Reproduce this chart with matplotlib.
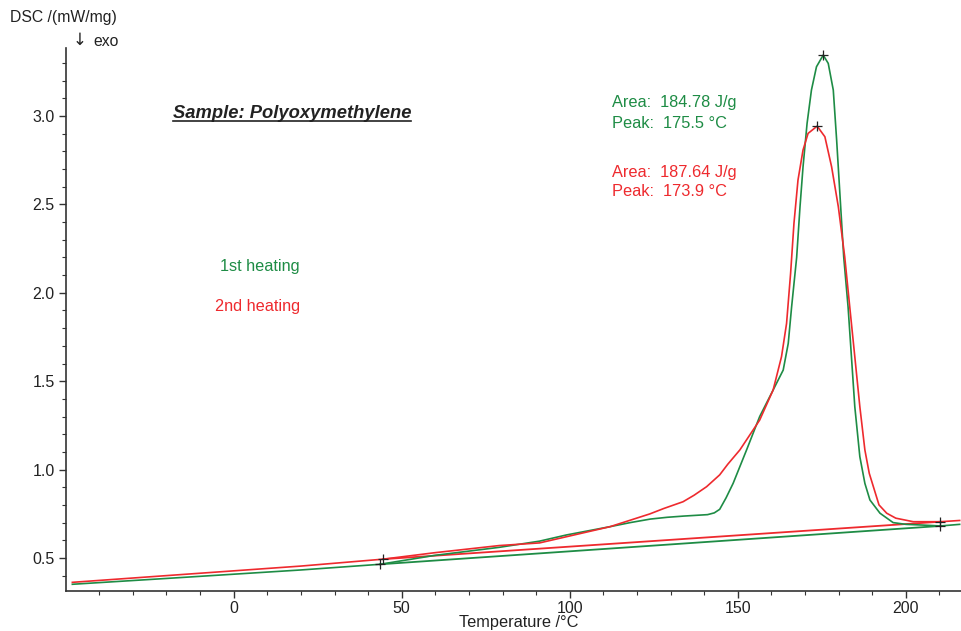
import numpy as np
import matplotlib.pyplot as plt
from matplotlib.lines import Line2D
from matplotlib.ticker import MultipleLocator

plt.rcParams['font.family'] = ['Liberation Sans', 'DejaVu Sans']

# 1st heating (green)
t1 = [-48, -20, 0, 20, 43.5, 60, 79, 91, 99, 112, 118, 124, 129, 134, 141, 143,
      144.6, 146.5, 148.6, 152.6, 156.5, 160.5, 163.5, 165.0, 166.0, 167.5, 168.5,
      169.4, 170.6, 171.9, 173.4, 175.4, 176.9, 178.4, 179.4, 180.6, 181.5, 182.8,
      183.8, 184.8, 186.3, 187.8, 189.3, 192.3, 196.2, 200, 205, 210.3, 216]
dsc1 = [0.351, 0.384, 0.408, 0.432, 0.464, 0.515, 0.56, 0.595, 0.63, 0.677, 0.70,
        0.72, 0.73, 0.737, 0.745, 0.755, 0.775, 0.84, 0.922, 1.111, 1.30, 1.45,
        1.563, 1.714, 1.92, 2.20, 2.487, 2.713, 2.958, 3.147, 3.279, 3.345, 3.298,
        3.147, 2.864, 2.487, 2.204, 1.92, 1.639, 1.356, 1.073, 0.922, 0.828, 0.753,
        0.70, 0.69, 0.686, 0.681, 0.69]

# 2nd heating (red)
t2 = [-48, -20, 0, 20, 44.4, 60, 79, 91, 99, 112, 123.8, 128, 133.7, 137, 140.7,
      144.6, 147, 150.6, 156.5, 160.5, 163.0, 164.5, 165.7, 166.7, 167.9, 169.4,
      170.9, 173.6, 175.9, 177.9, 179.9, 181.8, 183.3, 184.8, 186.3, 187.8, 189.1,
      192.0, 194.3, 197.0, 202.2, 210.3, 216]
dsc2 = [0.362, 0.40, 0.427, 0.454, 0.493, 0.53, 0.57, 0.585, 0.62, 0.677, 0.749,
        0.78, 0.818, 0.855, 0.903, 0.97, 1.03, 1.111, 1.28, 1.45, 1.639, 1.827,
        2.11, 2.393, 2.638, 2.808, 2.902, 2.943, 2.883, 2.713, 2.487, 2.204, 1.92,
        1.639, 1.356, 1.111, 0.979, 0.80, 0.753, 0.725, 0.705, 0.705, 0.712]

# integration limits and peaks
base1_t = [43.5, 210.3]
base1_y = [0.464, 0.681]
base2_t = [44.4, 210.3]
base2_y = [0.493, 0.705]
peak1 = (175.4, 3.345)
peak2 = (173.6, 2.943)

labels1 = ["Area:  184.78 J/g", "Peak:  175.5 °C"]
labels2 = ["Area:  187.64 J/g", "Peak:  173.9 °C"]

green = '#1e8c45'
red = '#ee2a2e'

fig = plt.figure(figsize=(9.61, 6.31), dpi=100)
ax = fig.add_axes([0.069, 0.0634, 0.931, 0.8605])

ax.plot(base1_t, base1_y, color=green, lw=1.3)
ax.plot(base2_t, base2_y, color=red, lw=1.3)
ax.plot(t1, dsc1, color=green, lw=1.2)
ax.plot(t2, dsc2, color=red, lw=1.2)

mk = dict(marker='+', color='#222222', ms=7, mew=0.9, ls='none')
ax.plot([base1_t[0], base1_t[1], peak1[0]], [base1_y[0], base1_y[1], peak1[1]], **mk)
ax.plot([base2_t[0], base2_t[1], peak2[0]], [base2_y[0], base2_y[1], peak2[1]], **mk)

ax.set_xlim(-49.8, 216.4)
ax.set_ylim(0.313, 3.385)
ax.xaxis.set_major_locator(MultipleLocator(50))
ax.xaxis.set_minor_locator(MultipleLocator(10))
ax.yaxis.set_major_locator(MultipleLocator(0.5))
ax.yaxis.set_minor_locator(MultipleLocator(0.1))
ax.yaxis.set_major_formatter(plt.FuncFormatter(lambda v, p: f"{v:.1f}"))

for s in ['top', 'right']:
    ax.spines[s].set_visible(False)
for s in ['left', 'bottom']:
    ax.spines[s].set_color('#333333')
    ax.spines[s].set_linewidth(1.2)
ax.tick_params(which='major', length=5, width=1, color='#333333',
               labelsize=11.5, labelcolor='#222222')
ax.tick_params(axis='x', which='major', pad=2)
ax.tick_params(which='minor', length=3, width=0.8, color='#333333')

fig.text(0.010, 0.972, "DSC /(mW/mg)", fontsize=11.3, color='#222222', va='center')
fig.text(0.076, 0.937, "↓", fontsize=12, color='#222222', va='center',
         family='DejaVu Sans')
fig.text(0.097, 0.935, "exo", fontsize=11.3, color='#222222', va='center')
fig.text(0.540, 0.013, "Temperature /°C", fontsize=11.8, color='#222222',
         ha='center', va='center')

title = fig.text(0.180, 0.820, "Sample: Polyoxymethylene", fontsize=13.2,
                 fontweight='bold', fontstyle='italic', color='#222222', va='center')

fig.text(0.312, 0.578, "1st heating", fontsize=11.7, color=green, ha='right', va='center')
fig.text(0.312, 0.515, "2nd heating", fontsize=11.7, color=red, ha='right', va='center')

fig.text(0.637, 0.837, labels1[0], fontsize=11.8, color=green, va='center')
fig.text(0.637, 0.804, labels1[1], fontsize=11.8, color=green, va='center')
fig.text(0.637, 0.726, labels2[0], fontsize=11.8, color=red, va='center')
fig.text(0.637, 0.697, labels2[1], fontsize=11.8, color=red, va='center')

# underline the sample title
fig.canvas.draw()
bb = title.get_window_extent().transformed(fig.transFigure.inverted())
fig.add_artist(Line2D([bb.x0, bb.x1], [bb.y0 + 0.002, bb.y0 + 0.002],
                      transform=fig.transFigure, color='#222222', lw=1.2))

fig.savefig("out.png", dpi=100)
